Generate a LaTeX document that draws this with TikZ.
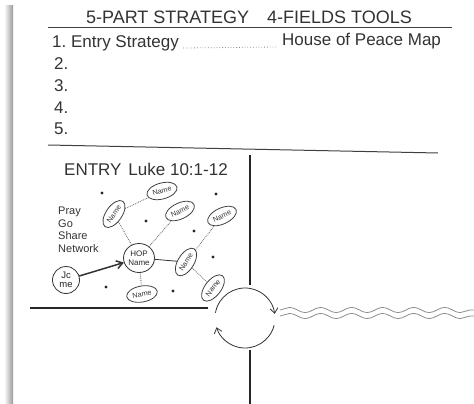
\documentclass[tikz,border=0pt]{standalone}
\usepackage{fontspec}
\setmainfont{Liberation Sans}
\usepackage{tikz}
\usetikzlibrary{arrows.meta, shapes.geometric, decorations.pathmorphing, calc}

\begin{document}
\begin{tikzpicture}[
    x=1pt, y=-1pt,
    heading/.style={font=\fontsize{18}{18}\selectfont, text=black!80, inner sep=0pt},
    item/.style={font=\fontsize{17}{17}\selectfont, text=black!80, anchor=west, inner sep=0pt},
    rule/.style={draw=black!75, line width=1pt},
    thick rule/.style={draw=black!85, line width=2pt},
    nm/.style={draw=black!75, ellipse, thick, inner sep=0.3pt, minimum width=31pt, minimum height=16pt, font=\fontsize{7.2}{7.2}\selectfont, text=black!80},
    hop/.style={draw=black!80, ellipse, thick, inner sep=0pt, minimum width=31pt, minimum height=29pt, align=center, font=\fontsize{8}{8.5}\selectfont, text=black!85},
    pt/.style={circle, fill=black!85, inner sep=0pt, minimum size=3.2pt},
    link/.style={draw=black!60, densely dotted, thick},
    tie/.style={draw=black!80, thick},
    cyc/.style={draw=black!80, thick, -{Straight Barb[length=5pt,width=8pt]}},
    wave/.style={draw=black!45, thick, decorate, decoration={snake, amplitude=2.6pt, segment length=31pt}},
]
\useasboundingbox (0,0) rectangle (474,404);

% ── Page edge ──
\shade[left color=white, right color=black!40] (4,6) rectangle (13,404);

% ── Header and list ──
\node[heading] (title) at (249,17) {5-PART STRATEGY\hspace{18pt}4-FIELDS TOOLS};
\coordinate (h1a) at (48,28);
\coordinate (h1b) at (452,28);
\draw[rule] (h1a) -- (h1b);

\node[item] (i1) at (52,43) {1.\ Entry Strategy};
\node[item] (tool1) at (282,41) {House of Peace Map};
\draw[black!45, dotted, thick] ($(i1.east)+(4,5)$) -- ($(tool1.west)+(-5,6)$);
\node[item] (i2) at (54,64) {2.};
\node[item] (i3) at (54,86) {3.};
\node[item] (i4) at (54,108) {4.};
\node[item] (i5) at (54,129) {5.};

\coordinate (h2a) at (48,145);
\coordinate (h2b) at (438,153);
\draw[rule] (h2a) -- (h2b);

% ── Quadrant lines ──
\coordinate (vtop) at (250,155);
\coordinate (vmid) at (250,285);
\coordinate (vlow) at (250,350);
\coordinate (vbot) at (250,404);
\coordinate (hl) at (30,308);
\coordinate (hr) at (208,308);
\draw[thick rule] (vtop) -- (vmid);
\draw[thick rule] (vlow) -- (vbot);
\draw[thick rule] (hl) -- (hr);

% ── Cycle ──
\coordinate (cyc) at (245,318);
\draw[cyc] ($(cyc)+(-170:30)$) arc[start angle=-170, end angle=-8, radius=30];
\draw[cyc] ($(cyc)+(14:30)$) arc[start angle=14, end angle=162, radius=30];

% ── Wavy double line ──
\coordinate (w1a) at (280,310);
\coordinate (w1b) at (474,310);
\coordinate (w2a) at (280,316);
\coordinate (w2b) at (474,316);
\draw[wave] (w1a) -- (w1b);
\draw[wave] (w2a) -- (w2b);

% ── Entry map ──
\node[font=\fontsize{17}{17}\selectfont, text=black!80, anchor=west, inner sep=0pt] (entry) at (64,169) {ENTRY\hspace{7pt}Luke 10:1-12};

\node[font=\fontsize{11}{12.5}\selectfont, text=black!80, align=left, anchor=north west, inner sep=0pt] (steps) at (58,207) {Pray\\Go\\Share\\Network};

\node[pt] (p1) at (102,193) {};
\node[pt] (p2) at (146,221) {};
\node[pt] (p3) at (216,194) {};
\node[pt] (p4) at (194,231) {};
\node[pt] (p5) at (213,257) {};
\node[pt] (p6) at (106,287) {};
\node[pt] (p7) at (173,291) {};

\node[hop] (hop) at (139,258) {HOP\\Name};
\node[draw=black!80, circle, thick, inner sep=0pt, minimum size=27pt, align=center, font=\fontsize{9.5}{8.5}\selectfont, text=black!85] (jc) at (66,280) {Jc\\me};

\node[nm, rotate=15] (n1) at (162,191) {Name};
\node[nm, rotate=55] (n2) at (114,214) {Name};
\node[nm, rotate=25] (n3) at (180,211) {Name};
\node[nm, rotate=25] (n4) at (222,216) {Name};
\node[nm, rotate=58] (n5) at (186,262) {Name};
\node[nm, rotate=10] (n6) at (142,294) {Name};
\node[nm, rotate=52] (n7) at (213,288) {Name};

\draw[tie, line width=1.5pt, -{Straight Barb[length=6pt,width=8pt]}] (jc) -- (hop);
\draw[tie] (hop) -- (n5);
\draw[link] (n2) -- (n1);
\draw[link] (n2) -- (hop);
\draw[link] (hop) -- (n3);
\draw[link] (hop) -- (n6);
\draw[link] (n5) -- (n4);
\draw[link] (n5) -- (n7);

\end{tikzpicture}
\end{document}
